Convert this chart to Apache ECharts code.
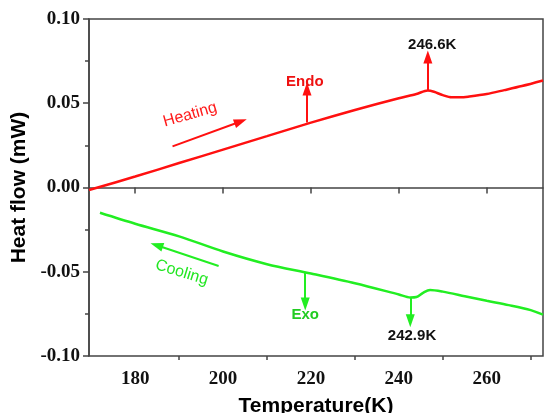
<!DOCTYPE html>
<html>
<head>
<meta charset="utf-8">
<script src="https://cdn.jsdelivr.net/npm/echarts@6/dist/echarts.min.js"></script>
<style>
  html, body { margin: 0; padding: 0; background: #fff; }
  #chart { width: 544px; height: 413px; }
</style>
</head>
<body>
<div id="chart"></div>
<script>
// heating curve (red)
const heatT = [169.5, 180, 190, 200, 210, 220, 230, 240, 244, 246.6, 248, 250, 252, 254, 256, 260, 264, 268, 272.8]
const heatV = [-0.0015, 0.0065, 0.0145, 0.0225, 0.0305, 0.0385, 0.046, 0.053, 0.0555, 0.0576, 0.0568, 0.0548, 0.0535, 0.0535, 0.054, 0.0555, 0.0578, 0.0602, 0.0635]

// cooling curve (green)
const coolT = [172, 180, 190, 200, 210, 220, 230, 240, 242.6, 244, 245.5, 247.1, 250, 255, 260, 265, 270, 272.8]
const coolV = [-0.015, -0.0215, -0.029, -0.038, -0.0455, -0.051, -0.0568, -0.0635, -0.0653, -0.065, -0.0625, -0.0608, -0.0618, -0.0645, -0.0672, -0.0698, -0.0728, -0.0755]

const xMajor = [180, 200, 220, 240, 260]
const xMinor = [190, 210, 230, 250, 270]

// annotation arrows [from, to] in data units
const heatArrows = [
    [[188.5, 0.0244], [204.0, 0.0392]],
    [[219.1, 0.0386], [219.1, 0.0585]],
    [[246.6, 0.0576], [246.6, 0.0775]]
]
const coolArrows = [
    [[199.0, -0.0466], [184.9, -0.0343]],
    [[218.7, -0.0505], [218.7, -0.0692]],
    [[242.6, -0.0653], [242.6, -0.0791]]
]
// annotation texts
const heatNotes = [
    { text: 'Heating', at: [192.5, 0.0432], rotate: 16, bold: false, color: '#ff1a1a' },
    { text: 'Endo', at: [218.6, 0.0625], rotate: 0, bold: true, color: '#ee1111' },
    { text: '246.6K', at: [247.6, 0.0848], rotate: 0, bold: true, color: '#111' }
]
const coolNotes = [
    { text: 'Cooling', at: [190.6, -0.0505], rotate: -17, bold: false, color: '#22e622' },
    { text: 'Exo', at: [218.7, -0.0757], rotate: 0, bold: true, color: '#22cc22' },
    { text: '242.9K', at: [243.0, -0.0883], rotate: 0, bold: true, color: '#111' }
]

const RED = '#ff1010'
const GREEN = '#22ee22'
const AXIS = '#444'

const toPairs = (xs, ys) => xs.map((x, i) => [x, ys[i]])

const arrowLines = (arrows, color) => ({
    silent: true,
    animation: false,
    symbol: ['none', 'triangle'],
    symbolSize: [9, 13],
    label: { show: false },
    lineStyle: { color: color, width: 2, type: 'solid' },
    itemStyle: { color: color },
    emphasis: { disabled: true },
    data: arrows.map(a => [{ coord: a[0] }, { coord: a[1] }])
})

const notePoints = (notes) => ({
    silent: true,
    animation: false,
    symbol: 'circle',
    symbolSize: 1,
    itemStyle: { color: 'rgba(0,0,0,0)' },
    emphasis: { disabled: true },
    data: notes.map(n => ({
        coord: n.at,
        label: {
            show: true,
            position: 'inside',
            formatter: n.text,
            rotate: n.rotate,
            color: n.color,
            fontFamily: 'Liberation Sans, Arial, sans-serif',
            fontWeight: n.bold ? 'bold' : 'normal',
            fontSize: n.bold ? 15 : 16
        }
    }))
})

const myChart = echarts.init(document.getElementById('chart'))

myChart.setOption({
    animation: false,
    backgroundColor: '#fff',
    grid: {
        top: 19,
        left: 89,
        right: 1,
        bottom: 57,
        outerBoundsMode: 'none',
        containLabel: false,
        show: true,
        borderColor: AXIS,
        borderWidth: 1.5
    },
    xAxis: [
        {
            type: 'value',
            min: 169.5,
            max: 272.8,
            name: 'Temperature(K)',
            nameLocation: 'middle',
            nameGap: 40,
            nameTextStyle: {
                fontFamily: 'Liberation Sans, Arial, sans-serif',
                fontWeight: 'bold',
                fontSize: 21,
                color: '#000'
            },
            axisLine: { show: true, lineStyle: { color: AXIS, width: 1.5 } },
            axisTick: { show: true, length: 6, customValues: xMajor, lineStyle: { color: AXIS, width: 1.5 } },
            axisLabel: {
                customValues: xMajor,
                margin: 14,
                fontFamily: 'Liberation Serif, Times New Roman, serif',
                fontWeight: 'bold',
                fontSize: 19,
                color: '#111'
            },
            splitLine: { show: false }
        },
        {
            type: 'value',
            min: 169.5,
            max: 272.8,
            position: 'bottom',
            offset: 0,
            axisLine: { show: false },
            axisTick: { show: true, length: 4, customValues: xMinor, lineStyle: { color: AXIS, width: 1.5 } },
            axisLabel: { show: false },
            splitLine: { show: false }
        }
    ],
    yAxis: {
        type: 'value',
        min: -0.1,
        max: 0.1,
        interval: 0.05,
        name: 'Heat flow (mW)',
        nameLocation: 'middle',
        nameGap: 57,
        nameTextStyle: {
            fontFamily: 'Liberation Sans, Arial, sans-serif',
            fontWeight: 'bold',
            fontSize: 21,
            color: '#000'
        },
        axisLine: { show: true, lineStyle: { color: AXIS, width: 1.5 } },
        axisTick: { show: true, length: 6, lineStyle: { color: AXIS, width: 1.5 } },
        minorTick: { show: true, splitNumber: 2, length: 4, lineStyle: { color: AXIS, width: 1.5 } },
        axisLabel: {
            margin: 9,
            fontFamily: 'Liberation Serif, Times New Roman, serif',
            fontWeight: 'bold',
            fontSize: 19,
            color: '#111',
            formatter: function (value) {
                return value.toFixed(2)
            }
        },
        splitLine: { show: false }
    },
    series: [
        {
            name: 'Heating',
            type: 'line',
            smooth: 0.3,
            showSymbol: false,
            symbolSize: 0,
            data: toPairs(heatT, heatV),
            lineStyle: { width: 2.5, color: RED },
            markLine: arrowLines(heatArrows, RED),
            markPoint: notePoints(heatNotes)
        },
        {
            name: 'Cooling',
            type: 'line',
            smooth: 0.3,
            showSymbol: false,
            symbolSize: 0,
            data: toPairs(coolT, coolV),
            lineStyle: { width: 2.5, color: GREEN },
            markLine: arrowLines(coolArrows, GREEN),
            markPoint: notePoints(coolNotes)
        }
    ]
})
</script>
</body>
</html>
